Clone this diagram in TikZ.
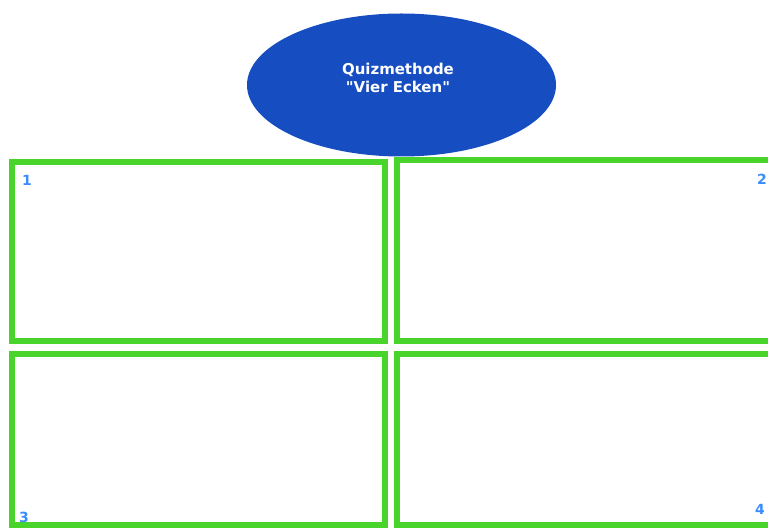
\documentclass[tikz,border=0pt]{standalone}
\usepackage{fontspec}
\setmainfont{DejaVu Sans}[Ligatures=TeXOff]
\usetikzlibrary{shapes.geometric}
\definecolor{boxgreen}{RGB}{72,212,42}
\definecolor{ellblue}{RGB}{22,78,194}
\definecolor{numblue}{RGB}{58,140,255}
\tikzset{
  corner/.style={draw=boxgreen, line width=6bp},
  num/.style={text=numblue, font=\bfseries\fontsize{14}{16}\selectfont, inner sep=0pt},
  title/.style={ellipse, fill=ellblue, minimum width=309bp, minimum height=143bp, inner sep=0pt},
  titletext/.style={text=white, align=center, inner sep=0pt, font=\bfseries\fontsize{15}{18}\selectfont}
}
\begin{document}
\begin{tikzpicture}[x=1bp,y=-1bp]
\useasboundingbox (0,0) rectangle (768,530);
\fill[white] (0,0) rectangle (768,530);
\draw[corner] (12,162) rectangle (384.5,341);
\draw[corner] (397,160) rectangle (776,341);
\draw[corner] (12,354) rectangle (384.5,525);
\draw[corner] (397,354) rectangle (776,525);
\node[title] (t) at (401.5,85) {};
\node[titletext] (tt) at (398,78) {Quizmethode\\"Vier Ecken"};
\node[num] (n1) at (27,180) {1};
\node[num] (n2) at (762,179) {2};
\node[num] (n3) at (24,517) {3};
\node[num] (n4) at (760,509) {4};
\end{tikzpicture}
\end{document}
